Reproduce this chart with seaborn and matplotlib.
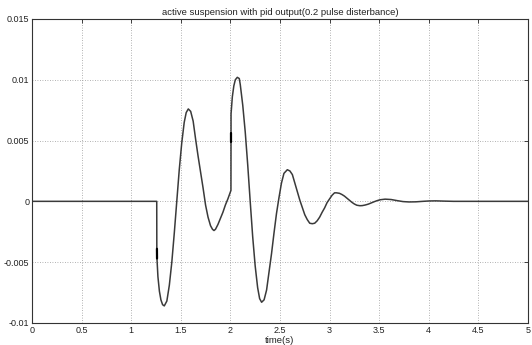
import matplotlib
matplotlib.use("Agg")
import matplotlib.pyplot as plt
import seaborn as sns
import pandas as pd

# Suspension response samples (time in s, output)
time_s = [0.0, 0.17, 1.258, 1.259, 1.27, 1.285, 1.30, 1.317, 1.334, 1.36, 1.385,
          1.41, 1.435, 1.46, 1.485, 1.51, 1.535, 1.555, 1.576, 1.60, 1.625,
          1.65, 1.675, 1.70, 1.725, 1.75, 1.775, 1.80, 1.82, 1.835, 1.85,
          1.875, 1.90, 1.925, 1.95, 1.975, 2.006, 2.007, 2.02, 2.035, 2.05,
          2.07, 2.09, 2.10, 2.125, 2.15, 2.175, 2.20, 2.225, 2.25, 2.275,
          2.295, 2.315, 2.34, 2.365, 2.39, 2.415, 2.44, 2.465, 2.49, 2.515,
          2.54, 2.574, 2.60, 2.625, 2.65, 2.675, 2.70, 2.725, 2.75, 2.775,
          2.80, 2.826, 2.85, 2.875, 2.90, 2.925, 2.95, 2.975, 3.00, 3.025,
          3.05, 3.07, 3.10, 3.125, 3.15, 3.175, 3.20, 3.225, 3.25, 3.275,
          3.306, 3.33, 3.36, 3.39, 3.42, 3.45, 3.48, 3.51, 3.56, 3.62, 3.68,
          3.74, 3.80, 3.87, 3.94, 4.00, 4.07, 4.15, 4.25, 5.0]
output = [0.0, 0.0, 0.0, -0.0045, -0.0062, -0.0074, -0.0081, -0.0085, -0.0086,
          -0.0082, -0.0069, -0.0050, -0.0026, 0.0000, 0.0026, 0.0048, 0.0065,
          0.0073, 0.0076, 0.0074, 0.0066, 0.0051, 0.0037, 0.0024, 0.0011,
          -0.0003, -0.0013, -0.0020, -0.0023, -0.0024, -0.0023, -0.0019,
          -0.0014, -0.0009, -0.0003, 0.0002, 0.0009, 0.0072, 0.0086, 0.0095,
          0.0100, 0.0102, 0.0101, 0.0096, 0.0079, 0.0057, 0.0030, 0.0000,
          -0.0029, -0.0053, -0.0071, -0.0080, -0.0083, -0.0081, -0.0073,
          -0.0058, -0.0043, -0.0026, -0.0010, 0.0003, 0.0015, 0.0023, 0.0026,
          0.0025, 0.0022, 0.0015, 0.0008, 0.0001, -0.0005, -0.0011, -0.0015,
          -0.0018, -0.00184, -0.0018, -0.0016, -0.0013, -0.0009, -0.00054,
          -0.0001, 0.0002, 0.0005, 0.0007, 0.0007, 0.00066, 0.00056, 0.00043,
          0.00026, 0.00009, -0.00008, -0.00022, -0.00032, -0.00036, -0.00035,
          -0.00030, -0.00023, -0.00013, -0.00003, 0.00006, 0.00013, 0.00018,
          0.00015, 0.00006, -0.00002, -0.00005, -0.00004, 0.0, 0.00003,
          0.00004, 0.00002, 0.0, 0.0]

# Short overlapping sample runs at the two pulse edges (drawn darker)
edge_group = ["a", "a", "b", "b"]
edge_time = [1.260, 1.261, 2.006, 2.006]
edge_output = [-0.0039, -0.0047, 0.0049, 0.0056]

x_ticks = [0, 0.5, 1, 1.5, 2, 2.5, 3, 3.5, 4, 4.5, 5]
x_tick_labels = ["0", "0.5", "1", "1.5", "2", "2.5", "3", "3.5", "4", "4.5", "5"]
y_ticks = [-0.01, -0.005, 0, 0.005, 0.01, 0.015]
y_tick_labels = ["-0.01", "-0.005", "0", "0.005", "0.01", "0.015"]

sns.set_style("white")
plt.rcParams["font.family"] = ["Liberation Sans", "DejaVu Sans"]

df = pd.DataFrame({"time": time_s, "output": output})
edges = pd.DataFrame({"time": edge_time, "output": edge_output, "edge": edge_group})

fig = plt.figure(figsize=(5.32, 3.45), dpi=100)
ax = fig.add_axes([0.060, 0.064, 0.9325, 0.881])

sns.lineplot(data=df, x="time", y="output", ax=ax, estimator=None, sort=False,
             color="#3a3a3a", linewidth=1.1)
sns.lineplot(data=edges, x="time", y="output", units="edge", ax=ax,
             estimator=None, sort=False, color="#000000", linewidth=1.6)

ax.set_xlim(0, 5)
ax.set_ylim(-0.01, 0.015)
ax.set_xticks(x_ticks)
ax.set_xticklabels(x_tick_labels)
ax.set_yticks(y_ticks)
ax.set_yticklabels(y_tick_labels)
ax.tick_params(direction="in", length=3, width=0.6, labelsize=6.5,
               top=True, right=True, pad=2, colors="#222222")
ax.grid(True, linestyle=(0, (1, 2)), color="#999999", linewidth=0.6)
for spine in ax.spines.values():
    spine.set_color("#333333")
    spine.set_linewidth(0.8)

ax.set_title("active suspension with pid output(0.2 pulse disterbance)",
             fontsize=6.8, pad=3, color="#222222")
ax.set_xlabel("time(s)", fontsize=6.8, labelpad=1, color="#222222")
ax.set_ylabel("")

fig.savefig("out.png", dpi=100, facecolor="white")
